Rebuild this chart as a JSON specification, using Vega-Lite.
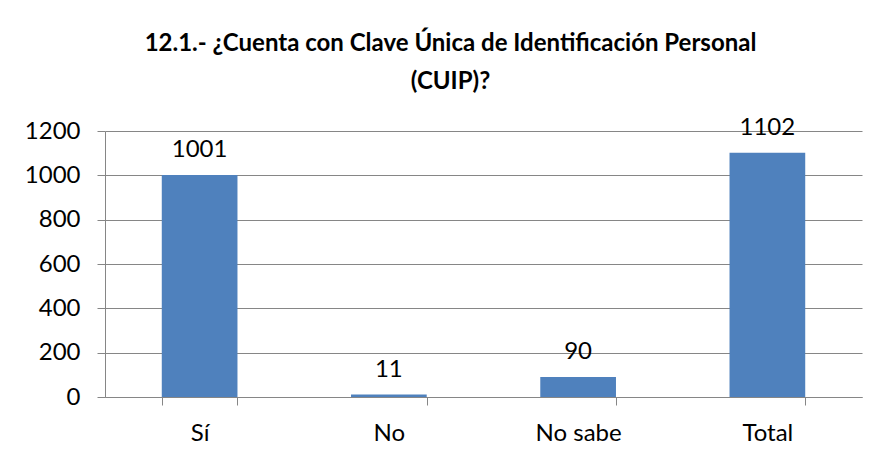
{
  "$schema": "https://vega.github.io/schema/vega-lite/v6.json",
  "width": 757,
  "height": 266,
  "autosize": {"type": "none"},
  "padding": {"left": 105, "top": 131, "right": 15, "bottom": 58},
  "background": "white",
  "title": {
    "text": ["12.1.- ¿Cuenta con Clave Única de Identificación Personal", "(CUIP)?"],
    "font": "Lato",
    "fontSize": 24,
    "fontWeight": "bold",
    "color": "black",
    "anchor": "middle",
    "frame": "group",
    "dx": -33,
    "lineHeight": 38,
    "offset": 22
  },
  "data": {
    "values": [
      {"categoria": "Sí", "valor": 1001},
      {"categoria": "No", "valor": 11},
      {"categoria": "No sabe", "valor": 90},
      {"categoria": "Total", "valor": 1102}
    ]
  },
  "encoding": {
    "x": {
      "field": "categoria",
      "type": "nominal",
      "sort": null,
      "scale": {"paddingInner": 0.6, "paddingOuter": 0.3},
      "axis": {
        "title": null,
        "labelAngle": 0,
        "labelFont": "Lato",
        "labelFontSize": 24,
        "labelColor": "black",
        "labelPadding": 16,
        "tickBand": "extent",
        "tickSize": 8,
        "tickColor": "#868686",
        "domainColor": "#868686",
        "grid": false
      }
    },
    "y": {
      "field": "valor",
      "type": "quantitative",
      "scale": {"domain": [0, 1200], "nice": false},
      "axis": {
        "title": null,
        "format": "d",
        "values": [0, 200, 400, 600, 800, 1000, 1200],
        "labelFont": "Lato",
        "labelFontSize": 24,
        "labelColor": "black",
        "labelPadding": 17,
        "tickSize": 8,
        "tickColor": "#868686",
        "domainColor": "#868686",
        "gridColor": "#868686",
        "grid": true
      }
    }
  },
  "layer": [
    {"mark": {"type": "bar", "color": "#4F81BD"}},
    {
      "mark": {"type": "text", "font": "Lato", "fontSize": 24, "color": "black", "baseline": "alphabetic", "dy": -18},
      "encoding": {"text": {"field": "valor", "type": "quantitative"}}
    }
  ],
  "config": {"view": {"stroke": null}}
}
